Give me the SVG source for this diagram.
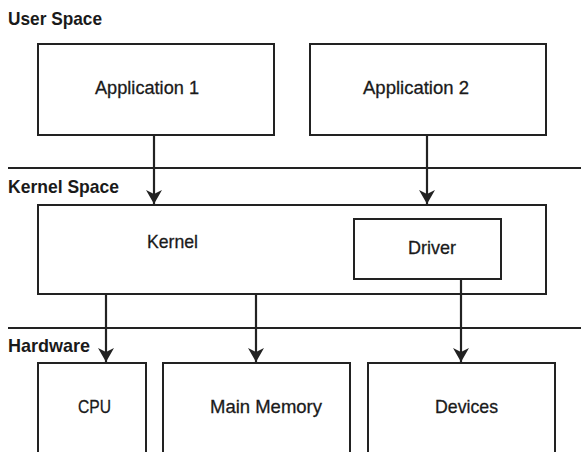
<svg xmlns="http://www.w3.org/2000/svg" width="581" height="452" viewBox="0 0 581 452">
<style>
.box{fill:#fff;stroke:#222;stroke-width:2}
.sep{stroke:#222;stroke-width:2}
.lbl{font-family:"Liberation Sans",Arial,sans-serif;font-size:19px;fill:#1a1a1a;stroke:#1a1a1a;stroke-width:0.3}
.sec{font-family:"Liberation Sans",Arial,sans-serif;font-size:19px;font-weight:bold;fill:#1a1a1a}
.con{stroke:#222;stroke-width:2.2;fill:none;marker-end:url(#ah)}
</style>
<defs>
<marker id="ah" markerUnits="userSpaceOnUse" markerWidth="18" markerHeight="16" refX="8" refY="15" orient="0" viewBox="0 0 16 16">
<path d="M0,1 L8,5 L16,1 L8,15 Z" fill="#222"/>
</marker>
</defs>
<rect width="581" height="452" fill="#fff"/>
<g id="sections">
<line class="sep" x1="8" y1="168" x2="581" y2="168"/>
<line class="sep" x1="8" y1="328" x2="581" y2="328"/>
<text class="sec" x="8" y="25" textLength="94" lengthAdjust="spacingAndGlyphs">User Space</text>
<text class="sec" x="8" y="193" textLength="111" lengthAdjust="spacingAndGlyphs">Kernel Space</text>
<text class="sec" x="8" y="352" textLength="82" lengthAdjust="spacingAndGlyphs">Hardware</text>
</g>
<g id="app1">
<rect class="box" x="38" y="44" width="236" height="91"/>
<text class="lbl" x="95" y="94" textLength="104" lengthAdjust="spacingAndGlyphs">Application 1</text>
</g>
<g id="app2">
<rect class="box" x="310" y="44" width="236" height="91"/>
<text class="lbl" x="363" y="94" textLength="106" lengthAdjust="spacingAndGlyphs">Application 2</text>
</g>
<g id="kernel">
<rect class="box" x="38" y="205" width="508" height="89"/>
<text class="lbl" x="147" y="248" textLength="51" lengthAdjust="spacingAndGlyphs">Kernel</text>
</g>
<g id="driver">
<rect class="box" x="354" y="219" width="147" height="60"/>
<text class="lbl" x="408" y="254" textLength="48" lengthAdjust="spacingAndGlyphs">Driver</text>
</g>
<g id="cpu">
<rect class="box" x="38" y="363" width="108" height="100"/>
<text class="lbl" x="78" y="413" textLength="33" lengthAdjust="spacingAndGlyphs">CPU</text>
</g>
<g id="memory">
<rect class="box" x="163" y="363" width="187" height="100"/>
<text class="lbl" x="210" y="413" textLength="112" lengthAdjust="spacingAndGlyphs">Main Memory</text>
</g>
<g id="devices">
<rect class="box" x="368" y="363" width="187" height="100"/>
<text class="lbl" x="435" y="413" textLength="63" lengthAdjust="spacingAndGlyphs">Devices</text>
</g>
<g id="connectors">
<line class="con" x1="154" y1="135" x2="154" y2="204"/>
<line class="con" x1="427" y1="135" x2="427" y2="204"/>
<line class="con" x1="106" y1="294" x2="106" y2="362"/>
<line class="con" x1="256" y1="294" x2="256" y2="362"/>
<line class="con" x1="461" y1="279" x2="461" y2="362"/>
</g>
</svg>
